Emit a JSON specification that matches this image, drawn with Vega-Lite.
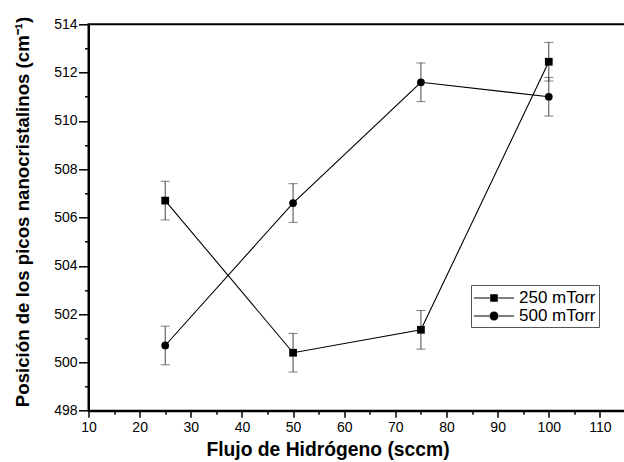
{
  "$schema": "https://vega.github.io/schema/vega-lite/v6.json",
  "autosize": "none",
  "padding": {"left": 88.5, "top": 24.3, "right": 0, "bottom": 51.3},
  "width": 537,
  "height": 386.4,
  "config": {
    "font": "Liberation Sans",
    "view": {"stroke": "#000", "strokeWidth": 2},
    "axis": {"labelFont": "Liberation Sans", "titleFont": "Liberation Sans", "labelColor": "#000", "titleColor": "#000", "tickColor": "#000", "domainColor": "#000", "grid": false}
  },
  "data": {
    "values": [
      {"series": "250 mTorr", "flujo": 25, "pos": 506.7, "err": 0.8},
      {"series": "250 mTorr", "flujo": 50, "pos": 500.4, "err": 0.8},
      {"series": "250 mTorr", "flujo": 75, "pos": 501.35, "err": 0.8},
      {"series": "250 mTorr", "flujo": 100, "pos": 512.45, "err": 0.8},
      {"series": "500 mTorr", "flujo": 25, "pos": 500.7, "err": 0.8},
      {"series": "500 mTorr", "flujo": 50, "pos": 506.6, "err": 0.8},
      {"series": "500 mTorr", "flujo": 75, "pos": 511.6, "err": 0.8},
      {"series": "500 mTorr", "flujo": 100, "pos": 511.0, "err": 0.8}
    ]
  },
  "resolve": {"axis": {"x": "independent", "y": "independent"}, "scale": {"shape": "independent"}},
  "layer": [
    {
      "mark": {"type": "errorbar", "ticks": {"size": 9, "color": "#444", "strokeWidth": 1}, "color": "#444"},
      "encoding": {
        "x": {"field": "flujo", "type": "quantitative", "scale": {"domain": [10, 115], "nice": false, "zero": false},
          "axis": {"orient": "bottom", "values": [15, 25, 35, 45, 55, 65, 75, 85, 95, 105, 115], "labels": false, "domain": false, "tickSize": 3.5, "tickWidth": 1.5, "title": null}},
        "y": {"field": "pos", "type": "quantitative", "scale": {"domain": [498, 514], "nice": false, "zero": false},
          "axis": {"orient": "left", "values": [499, 501, 503, 505, 507, 509, 511, 513], "labels": false, "domain": false, "tickSize": 4, "tickWidth": 1.5, "title": null}},
        "yError": {"field": "err"}
      }
    },
    {
      "mark": {"type": "line", "color": "#000", "strokeWidth": 1.1},
      "encoding": {
        "x": {"field": "flujo", "type": "quantitative",
          "axis": {"orient": "bottom", "values": [10, 20, 30, 40, 50, 60, 70, 80, 90, 100, 110], "tickSize": 6.5, "tickWidth": 1.5, "domainWidth": 2, "labelFontSize": 14, "labelPadding": 3, "title": "Flujo de Hidrógeno (sccm)", "titleFontSize": 19.3, "titleFontWeight": "bold", "titlePadding": 6, "titleX": 239, "labelFlush": false}},
        "y": {"field": "pos", "type": "quantitative",
          "axis": {"orient": "left", "values": [498, 500, 502, 504, 506, 508, 510, 512, 514], "tickSize": 10, "tickWidth": 1.5, "domainWidth": 2, "labelFontSize": 14, "labelPadding": 1.5, "title": "Posición de los picos nanocristalinos (cm⁻¹)", "titleFontSize": 18.65, "titleFontWeight": "bold", "titlePadding": 21, "titleY": 187.2, "labelFlush": false}},
        "detail": {"field": "series"}
      }
    },
    {
      "mark": {"type": "point", "filled": true, "color": "#000", "opacity": 1, "size": 60},
      "encoding": {
        "x": {"field": "flujo", "type": "quantitative", "axis": null},
        "y": {"field": "pos", "type": "quantitative", "axis": null},
        "shape": {"field": "series", "type": "nominal", "scale": {"range": ["square", "circle"]}, "legend": null}
      }
    },
    {
      "transform": [{"filter": "datum.flujo < 0"}],
      "mark": {"type": "point", "filled": true, "color": "#000", "opacity": 1},
      "encoding": {
        "x": {"field": "flujo", "type": "quantitative", "axis": null},
        "y": {"field": "pos", "type": "quantitative", "axis": null},
        "shape": {"field": "series", "type": "nominal",
          "scale": {"domain": ["250 mTorr", "500 mTorr"], "range": [
            "M-1,-0.06H0.58V0.06H-1ZM1.42,-0.06H3V0.06H1.42ZM0.62,-0.38H1.38V0.38H0.62Z",
            "M-1,-0.06H0.52V0.06H-1ZM1.48,-0.06H3V0.06H1.48ZM0.55,0A0.45,0.45 0 1,0 1.45,0A0.45,0.45 0 1,0 0.55,0Z"
          ]},
          "legend": {
            "title": null, "orient": "none", "legendX": 382.5, "legendY": 260.7,
            "strokeColor": "#555", "fillColor": "#fff", "padding": 3,
            "labelFontSize": 17, "labelColor": "#000", "labelOffset": 25, "rowPadding": 0,
            "symbolSize": 400, "symbolFillColor": "#000", "symbolStrokeWidth": 0, "symbolOpacity": 1
          }}
      }
    }
  ]
}
